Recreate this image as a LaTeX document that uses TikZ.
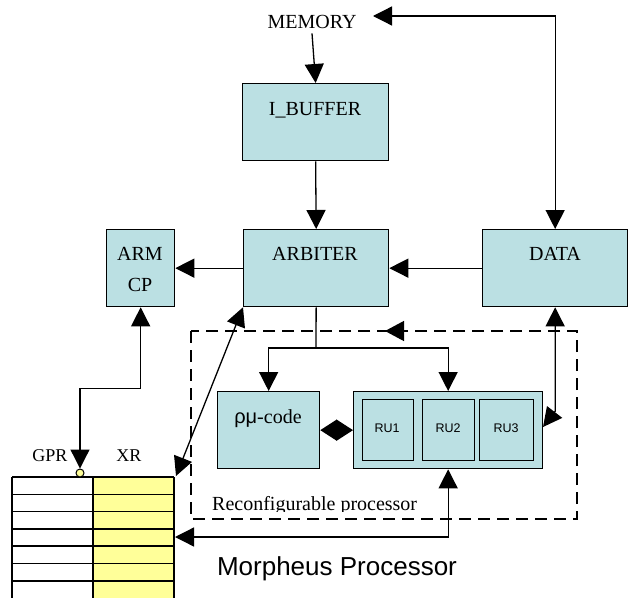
\documentclass[tikz,border=0pt]{standalone}
\usepackage{fontspec}
\setmainfont{Liberation Serif}
\setsansfont{Liberation Sans}
\usetikzlibrary{arrows.meta}
\definecolor{boxc}{RGB}{187,224,227}
\definecolor{regy}{RGB}{255,255,153}
\begin{document}
\begin{tikzpicture}[x=1pt,y=-1pt,
  blk/.style={draw,line width=1.3pt,fill=boxc,inner sep=0pt,anchor=north west},
  lbl/.style={font=\fontsize{20}{24}\selectfont,inner sep=0pt,anchor=base},
  rulbl/.style={font=\sffamily\fontsize{12.5}{15}\selectfont,inner sep=0pt,anchor=base},
  wire/.style={line width=1.3pt},
  conn/.style={line width=1.3pt,-{Triangle[length=19pt,width=19pt]}},
  dconn/.style={line width=1.3pt,{Triangle[length=19pt,width=19pt]}-{Triangle[length=19pt,width=19pt]}},
  sconn/.style={line width=1.3pt,{Triangle[length=16.5pt,width=21pt]}-{Triangle[length=16.5pt,width=21pt]}},
  regline/.style={line width=1.5pt}
]
\useasboundingbox (0,0) rectangle (629,597);

% boxes
\node[blk,minimum width=146pt,minimum height=77pt] (ibuf) at (242,83) {};
\node[blk,minimum width=145pt,minimum height=77pt] (arb) at (243,229) {};
\node[blk,minimum width=68pt,minimum height=77pt] (arm) at (106,229) {};
\node[blk,minimum width=145pt,minimum height=77pt] (data) at (482,229) {};
\node[blk,minimum width=102pt,minimum height=77pt] (rho) at (217,391) {};
\node[blk,minimum width=189pt,minimum height=77pt] (rub) at (353,391) {};
\node[blk,minimum width=51pt,minimum height=61pt] (ru1) at (362,399) {};
\node[blk,minimum width=52pt,minimum height=61pt] (ru2) at (422,399) {};
\node[blk,minimum width=54pt,minimum height=61pt] (ru3) at (479,399) {};

% labels
\node[lbl] (mem) at (312,28) {MEMORY};
\node[lbl] (ibuflbl) at (315,115) {I\_BUFFER};
\node[lbl] (arblbl) at (315,260) {ARBITER};
\node[lbl] (armlbl) at (140,260) {ARM};
\node[lbl] (cplbl) at (140,291) {CP};
\node[lbl] (datalbl) at (555,260) {DATA};
\node[lbl] (rholbl) at (268,423) {{\sffamily ρμ}-code};
\node[rulbl] (ru1lbl) at (387,432) {RU1};
\node[rulbl] (ru2lbl) at (448,432) {RU2};
\node[rulbl] (ru3lbl) at (506,432) {RU3};
\node[lbl,font=\fontsize{18}{22}\selectfont] (gprlbl) at (50,461) {GPR};
\node[lbl,font=\fontsize{18}{22}\selectfont] (xrlbl) at (129,461) {XR};
\node[lbl,font=\sffamily\fontsize{26}{30}\selectfont] (morph) at (337,575) {Morpheus Processor};

% reconfigurable processor frame
\draw[line width=1.5pt,dash pattern=on 12pt off 7pt] (191,331) rectangle (577,519);
\begin{scope}
  \clip (191,480) rectangle (577,511);
  \node[lbl,anchor=base west] (reclbl) at (212,510) {Reconfigurable processor};
\end{scope}
\draw[line width=1.3pt,-{Triangle[length=19pt,width=20pt]}] (406,331) -- (385,331);

% register file
\fill[white] (12,477) rectangle (93,600);
\fill[regy] (93,477) rectangle (174,600);
\foreach \yy in {477,494.3,511.6,528.9,546.2,563.5,580.8}
  \draw[regline] (12,\yy) -- (174,\yy);
\draw[regline] (12,477) -- (12,600);
\draw[regline] (93,477) -- (93,600);
\draw[regline] (174,477) -- (174,600);
\node[circle,draw,fill=regy,line width=1pt,minimum size=8pt,inner sep=0pt] (gdot) at (80,473) {};
\coordinate (xrtop) at (176,476);
\coordinate (xrmid) at (175,537);

% connectors
\coordinate (memin) at (373,16);
\coordinate (sp) at (316,348);
\coordinate (druend) at (543,427);
\draw[conn] ([yshift=-5pt]mem.south) -- (ibuf.north);
\draw[conn] (ibuf.south) -- (arb.north);
\draw[conn] (arb.west) -- (arm.east);
\draw[conn] (data.west) -- (arb.east);
\draw[dconn] (memin) -| (data.north);
\draw[wire] (arb.south) -- (sp);
\draw[conn] (sp) -| (rho.north);
\draw[conn] (sp) -| (rub.north);
\draw[sconn] (rho.east) -- (rub.west);
\draw[dconn] (data.south) -- ([yshift=-104pt]data.south) -- (druend);
\draw[dconn] (rub.south) |- (xrmid);
\draw[dconn] (arm.south) -- ++(0,81) -| (gdot.north);
\draw[dconn] (xrtop) -- (arb.south west);
\end{tikzpicture}
\end{document}
